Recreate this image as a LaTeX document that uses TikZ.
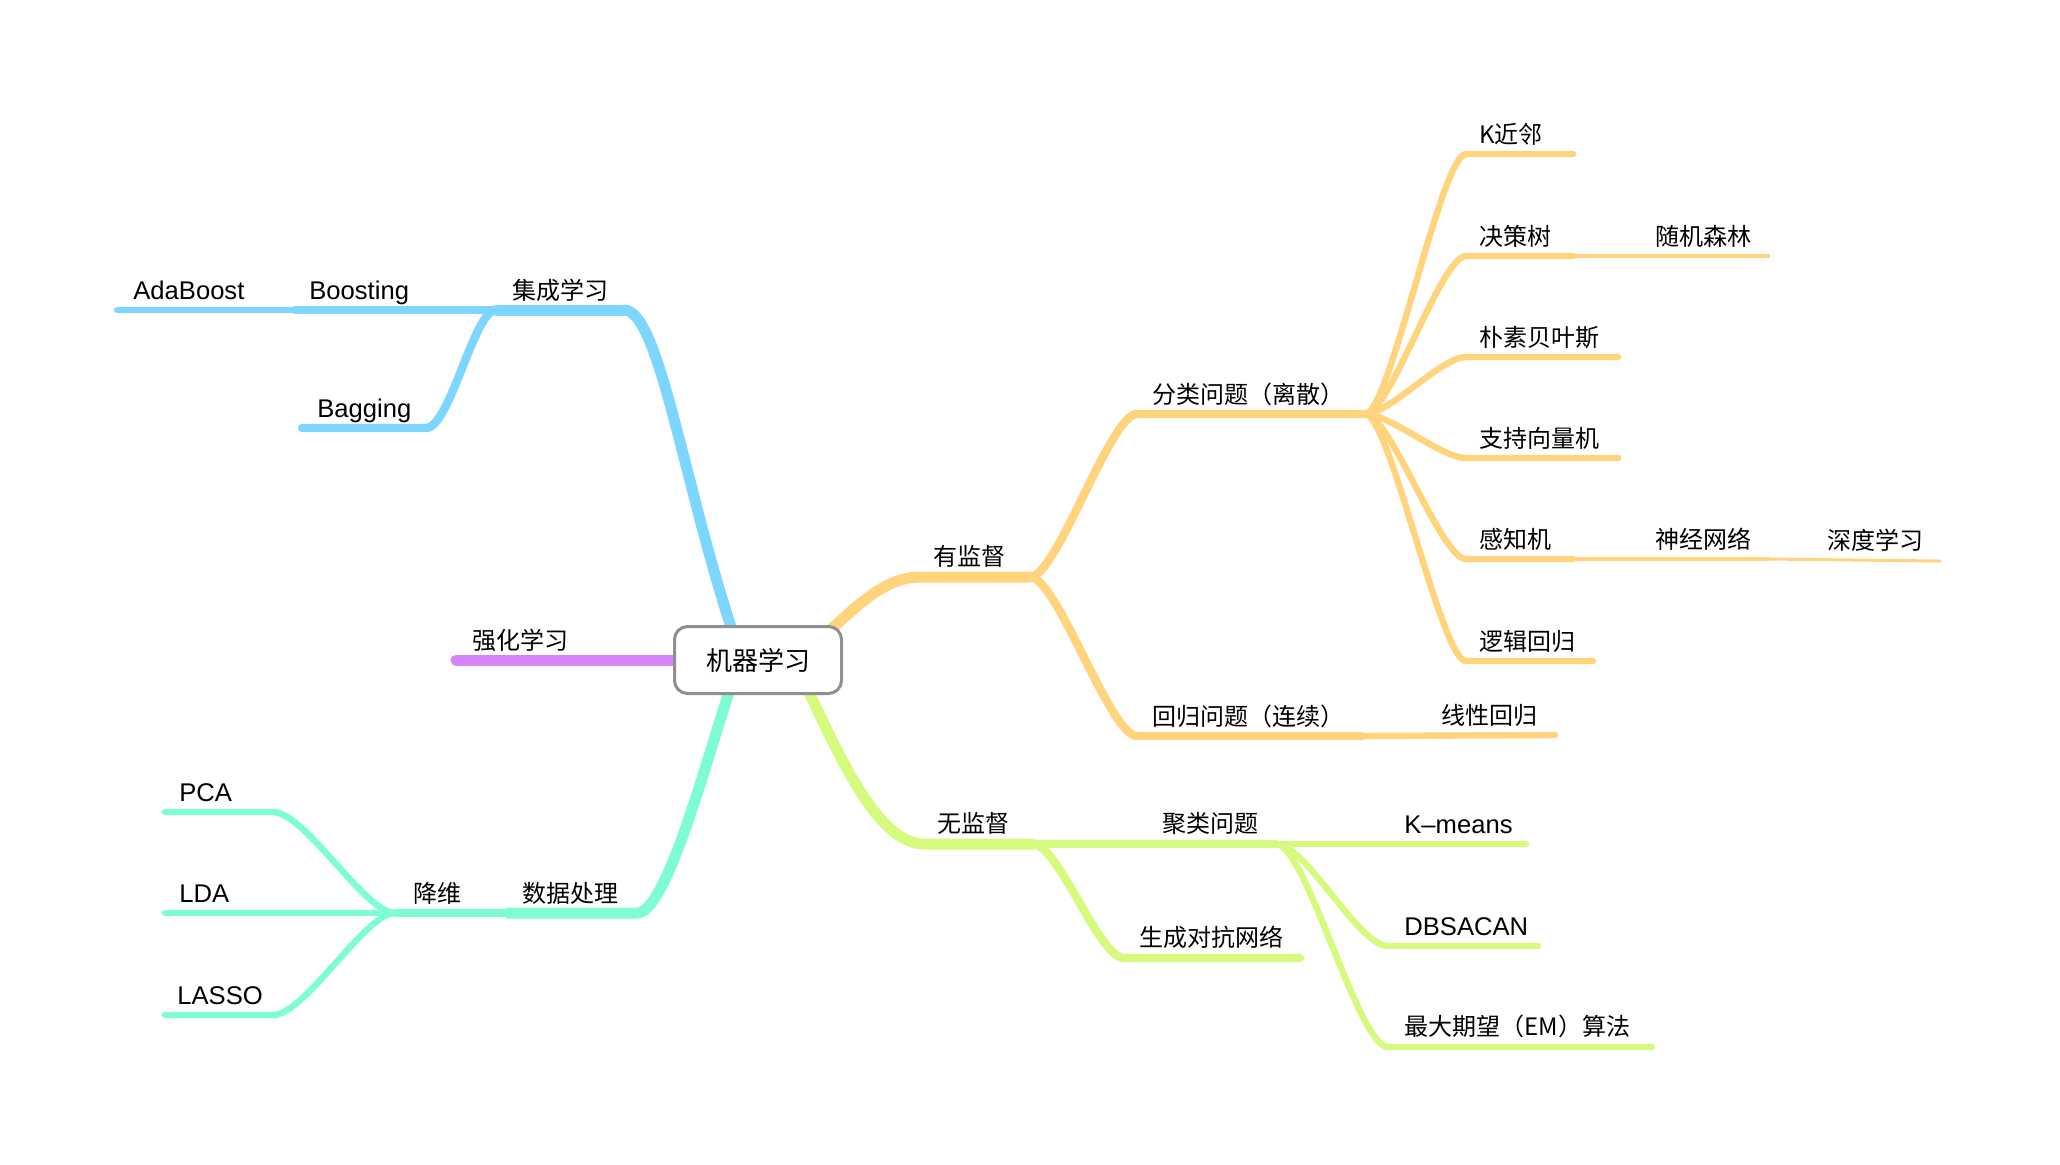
\documentclass[tikz,border=0pt]{standalone}
\usepackage{fontspec}
\setmainfont{Noto Sans CJK SC}
\newfontfamily\latfont{Liberation Sans}

\definecolor{mlblue}{HTML}{7DD6FF}
\definecolor{mlyellow}{HTML}{FFD47D}
\definecolor{mllime}{HTML}{D5FA7D}
\definecolor{mlteal}{HTML}{7DFCD6}
\definecolor{mlpurple}{HTML}{D685F8}
\definecolor{mlgray}{HTML}{8F8F8F}

\tikzset{
  branch/.style={draw, line cap=round},
  lvone/.style={branch, line width=5.5pt},
  lvtwo/.style={branch, line width=4.2pt},
  lvthree/.style={branch, line width=3.2pt},
  lvfour/.style={branch, line width=2.3pt},
  lvfive/.style={branch, line width=1.5pt},
  lbl/.style={anchor=base west, inner sep=0pt, font=\fontsize{12}{14}\selectfont},
  latlbl/.style={lbl, font=\latfont\fontsize{12.8}{15}\selectfont},
  root/.style={draw=mlgray, line width=1.5pt, rounded corners=6.5pt, fill=white,
    minimum width=83.5pt, minimum height=33.5pt, inner sep=0pt,
    font=\fontsize{13}{15}\selectfont}
}

\begin{document}
\begin{tikzpicture}[x=0.5pt, y=-0.5pt]
  \useasboundingbox (0,0) rectangle (2060,1164);

  % ends of the branches
  \coordinate (ml-a)  at (737,645);
  \coordinate (ml-b)  at (700,660);
  \coordinate (ml-c)  at (733,680);
  \coordinate (ml-d)  at (810,648);
  \coordinate (ml-e)  at (803,680);

  \coordinate (jc-r)  at (624,310);
  \coordinate (jc-l)  at (496,310);
  \coordinate (bo-l)  at (295,310);
  \coordinate (ab-l)  at (117,310);
  \coordinate (bg-r)  at (426,428);
  \coordinate (bg-l)  at (302,428);

  \coordinate (qh-l)  at (456,660);

  \coordinate (sj-r)  at (637,913);
  \coordinate (sj-l)  at (508,913);
  \coordinate (jw-l)  at (395,913);
  \coordinate (pca-r) at (273,812);
  \coordinate (pca-l) at (165,812);
  \coordinate (lda-l) at (165,913);
  \coordinate (las-r) at (273,1015);
  \coordinate (las-l) at (165,1015);

  \coordinate (yj-l)  at (920,577);
  \coordinate (yj-r)  at (1030,577);
  \coordinate (fl-l)  at (1137,414);
  \coordinate (fl-r)  at (1365,414);
  \coordinate (hg-l)  at (1137,736);
  \coordinate (hg-r)  at (1362,736);
  \coordinate (xx-r)  at (1555,735);
  \coordinate (kn-l)  at (1466,154);
  \coordinate (kn-r)  at (1573,154);
  \coordinate (dt-l)  at (1466,256);
  \coordinate (dt-r)  at (1573,256);
  \coordinate (rf-r)  at (1768,256);
  \coordinate (nb-l)  at (1466,357);
  \coordinate (nb-r)  at (1618,357);
  \coordinate (svm-l) at (1466,458);
  \coordinate (svm-r) at (1618,458);
  \coordinate (pc-l)  at (1466,559);
  \coordinate (pc-r)  at (1573,559);
  \coordinate (nn-r)  at (1768,559);
  \coordinate (dl-r)  at (1940,561);
  \coordinate (lr-l)  at (1466,661);
  \coordinate (lr-r)  at (1593,661);

  \coordinate (wj-l)  at (924,844);
  \coordinate (wj-r)  at (1033,844);
  \coordinate (jl-r)  at (1276,844);
  \coordinate (km-r)  at (1526,844);
  \coordinate (gan-l) at (1124,958);
  \coordinate (gan-r) at (1300,958);
  \coordinate (db-l)  at (1388,946);
  \coordinate (db-r)  at (1538,946);
  \coordinate (em-l)  at (1388,1047);
  \coordinate (em-r)  at (1652,1047);

  % ensemble learning
  \begin{scope}[color=mlblue]
    \draw[lvone] (ml-a) .. controls (684,490) and (660,310) .. (jc-r);
    \draw[lvone] (jc-r) -- (jc-l);
    \draw[lvtwo] (jc-l) -- (bo-l);
    \draw[lvthree] (bo-l) -- (ab-l);
    \draw[lvtwo] (jc-l) .. controls +(-22,0) and +(24,0) .. (bg-r) -- (bg-l);
  \end{scope}

  % reinforcement learning
  \draw[lvone, mlpurple] (ml-b) -- (qh-l);

  % data processing
  \begin{scope}[color=mlteal]
    \draw[lvone] (ml-c) .. controls (706,760) and (667,913) .. (sj-r) -- (sj-l);
    \draw[lvtwo] (sj-l) -- (jw-l);
    \draw[lvthree] (jw-l) .. controls +(-30,0) and +(32,0) .. (pca-r) -- (pca-l);
    \draw[lvthree] (jw-l) -- (lda-l);
    \draw[lvthree] (jw-l) .. controls +(-30,0) and +(32,0) .. (las-r) -- (las-l);
  \end{scope}

  % supervised
  \begin{scope}[color=mlyellow]
    \draw[lvone] (ml-d) .. controls (850,614) and (880,577) .. (yj-l) -- (yj-r);
    \draw[lvtwo] (yj-r) .. controls +(27,0) and +(-27,0) .. (fl-l) -- (fl-r);
    \draw[lvtwo] (yj-r) .. controls +(27,0) and +(-27,0) .. (hg-l) -- (hg-r);
    \draw[lvthree] (hg-r) -- (xx-r);
    \draw[lvthree] (fl-r) .. controls +(25,0) and +(-25,0) .. (kn-l) -- (kn-r);
    \draw[lvthree] (fl-r) .. controls +(25,0) and +(-25,0) .. (dt-l) -- (dt-r);
    \draw[lvfour] (dt-r) -- (rf-r);
    \draw[lvthree] (fl-r) .. controls +(25,0) and +(-25,0) .. (nb-l) -- (nb-r);
    \draw[lvthree] (fl-r) .. controls +(25,0) and +(-25,0) .. (svm-l) -- (svm-r);
    \draw[lvthree] (fl-r) .. controls +(25,0) and +(-25,0) .. (pc-l) -- (pc-r);
    \draw[lvfour] (pc-r) -- (nn-r);
    \draw[lvfive] (nn-r) -- (dl-r);
    \draw[lvthree] (fl-r) .. controls +(25,0) and +(-25,0) .. (lr-l) -- (lr-r);
  \end{scope}

  % unsupervised
  \begin{scope}[color=mllime]
    \draw[lvone] (ml-e) .. controls (835,745) and (875,844) .. (wj-l) -- (wj-r);
    \draw[lvtwo] (wj-r) -- (jl-r);
    \draw[lvthree] (jl-r) -- (km-r);
    \draw[lvtwo] (wj-r) .. controls +(25,0) and +(-25,0) .. (gan-l) -- (gan-r);
    \draw[lvthree] (jl-r) .. controls +(30,0) and +(-30,0) .. (db-l) -- (db-r);
    \draw[lvthree] (jl-r) .. controls +(30,0) and +(-30,0) .. (em-l) -- (em-r);
  \end{scope}

  % labels
  \node[latlbl] (ab)  at (133,299)  {AdaBoost};
  \node[latlbl] (bo)  at (309,299)  {Boosting};
  \node[lbl]    (jc)  at (512,299)  {集成学习};
  \node[latlbl] (bg)  at (317,417)  {Bagging};
  \node[lbl]    (qh)  at (472,649)  {强化学习};
  \node[lbl]    (sj)  at (522,902)  {数据处理};
  \node[lbl]    (jw)  at (413,902)  {降维};
  \node[latlbl] (pca) at (179,801)  {PCA};
  \node[latlbl] (lda) at (179,902)  {LDA};
  \node[latlbl] (las) at (177,1004) {LASSO};

  \node[lbl] (yj)  at (933,565)  {有监督};
  \node[lbl] (fl)  at (1152,403) {分类问题（离散）};
  \node[lbl] (hg)  at (1152,725) {回归问题（连续）};
  \node[lbl] (xx)  at (1441,724) {线性回归};
  \node[lbl] (kn)  at (1479,143) {K近邻};
  \node[lbl] (dt)  at (1479,245) {决策树};
  \node[lbl] (rf)  at (1655,245) {随机森林};
  \node[lbl] (nb)  at (1479,346) {朴素贝叶斯};
  \node[lbl] (svm) at (1479,447) {支持向量机};
  \node[lbl] (pc)  at (1479,548) {感知机};
  \node[lbl] (nn)  at (1655,548) {神经网络};
  \node[lbl] (dl)  at (1827,549) {深度学习};
  \node[lbl] (lr)  at (1479,650) {逻辑回归};

  \node[lbl]    (wj)  at (937,832)   {无监督};
  \node[lbl]    (jl)  at (1162,832)  {聚类问题};
  \node[latlbl] (km)  at (1404,833)  {K–means};
  \node[lbl]    (gan) at (1139,946)  {生成对抗网络};
  \node[latlbl] (db)  at (1404,935)  {DBSACAN};
  \node[lbl]    (em)  at (1404,1035) {最大期望（EM）算法};

  % centre
  \node[root] (ml) at (758,660) {机器学习};

\end{tikzpicture}
\end{document}
